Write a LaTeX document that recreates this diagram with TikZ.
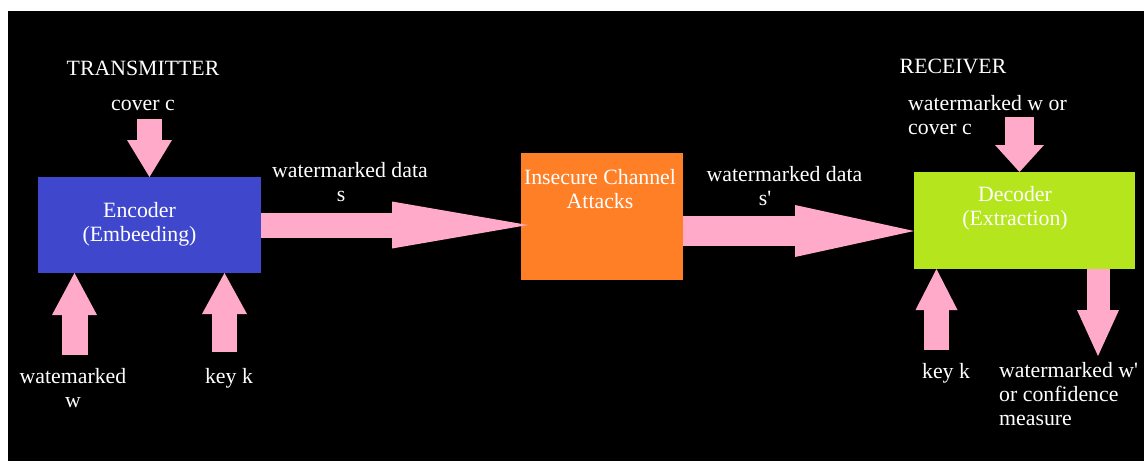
\documentclass[tikz,border=0pt]{standalone}
\usepackage{fontspec}
\setmainfont{Liberation Serif}
\usetikzlibrary{positioning}
\usetikzlibrary{arrows.meta}
\definecolor{encblue}{RGB}{63,72,204}
\definecolor{chanorange}{RGB}{255,127,39}
\definecolor{declime}{RGB}{181,230,29}
\definecolor{rosepink}{RGB}{255,170,200}

\begin{document}
\begin{tikzpicture}[x=1pt, y=-1pt,
    box/.style={inner sep=0pt, outer sep=0pt},
    lbl/.style={text=white, font=\fontsize{21.8}{24}\selectfont, inner sep=0pt, align=center},
    bigarrow/.style n args={3}{draw=rosepink, line width=#1, -{Triangle[width=#2, length=#3, line width=0pt]}} ]

    %Background
    \useasboundingbox (0,0) rectangle (1145,461);
    \fill[white] (0,0) rectangle (1145,461);
    \fill[black] (8,11) rectangle (1144,461);

    %Nodes
    \node[box, fill=encblue, minimum width=223pt, minimum height=96pt,
        label={[lbl, anchor=north, xshift=-10pt, yshift=-25pt]north:{Encoder\\(Embeeding)}}] (enc) at (149.5,225) {};
    \node[box, fill=chanorange, minimum width=162pt, minimum height=127pt,
        label={[lbl, anchor=north, xshift=-2pt, yshift=-16.5pt]north:{Insecure Channel\\Attacks}}] (chan) at (602,216.5) {};
    \node[box, fill=declime, minimum width=221pt, minimum height=97pt,
        label={[lbl, anchor=north, xshift=-9.5pt, yshift=-14pt]north:{Decoder\\(Extraction)}}] (dec) at (1024.5,220.5) {};

    % multi-line texts: base is the baseline of the last line
    \node[lbl, anchor=base] (transmitter) at (143,75) {TRANSMITTER};
    \node[lbl, anchor=base] (cover_lbl) at (143,110) {cover c};
    \node[lbl, anchor=base] (wm_lbl) at (73,407) {watemarked\\w};
    \node[lbl, anchor=base] (key_enc_lbl) at (229,383) {key k};
    \node[lbl, anchor=base] (data_s) at (350,201) {watermarked data\\s\hspace*{18pt}};
    \node[lbl, anchor=base] (data_s2) at (784.5,205) {watermarked data\\s\textquotesingle\hspace*{39pt}};
    \node[lbl, anchor=base] (receiver) at (953,73) {RECEIVER};
    \node[lbl, anchor=base west, align=left] (dec_in_lbl) at (908,134) {watermarked w or\\cover c};
    \node[lbl, anchor=base] (key_dec_lbl) at (946,378) {key k};
    \node[lbl, anchor=base west, align=left] (out_lbl) at (999,425) {watermarked w\textquotesingle\\or confidence\\measure};

    \coordinate (cover_src) at (149.5,119);
    \coordinate (wm_src) at (74.5,355);
    \coordinate (key_enc_src) at (224.5,352);
    \coordinate (s2_src) at ([yshift=-14.5pt]chan.east);
    \coordinate (dec_in_src) at (1019.5,117);
    \coordinate (key_dec_src) at (936.5,350);
    \coordinate (out_end) at (1098,356);

    %Lines
    \draw[bigarrow={25pt}{45pt}{37pt}] (cover_src) -- (enc.north);
    \draw[bigarrow={26pt}{45pt}{42pt}] (wm_src) -- (wm_src |- enc.south);
    \draw[bigarrow={25pt}{45pt}{41pt}] (key_enc_src) -- (key_enc_src |- enc.south);
    \draw[bigarrow={25pt}{47pt}{136pt}] (enc.east) -- ([xshift=7pt]chan.west |- enc.east);
    \draw[bigarrow={30pt}{52pt}{119pt}] (s2_src) -- (s2_src -| dec.west);
    \draw[bigarrow={29pt}{49pt}{27pt}] (dec_in_src) -- (dec_in_src |- dec.north);
    \draw[bigarrow={25pt}{42pt}{41pt}] (key_dec_src) -- (key_dec_src |- dec.south);
    \draw[bigarrow={23pt}{42pt}{46pt}] (dec.south -| out_end) -- (out_end);
\end{tikzpicture}
\end{document}
